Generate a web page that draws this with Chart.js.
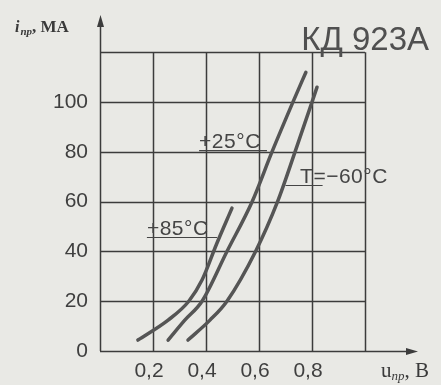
<!DOCTYPE html>
<html>
<head>
<meta charset="utf-8">
<script src="https://cdn.jsdelivr.net/npm/chart.js@4.4.1/dist/chart.umd.min.js"></script>
<style>
  html, body { margin: 0; padding: 0; background: #e9e9e5; }
  #wrap { width: 441px; height: 385px; }
</style>
</head>
<body>
<div id="wrap"><canvas id="myChart" width="441" height="385"></canvas></div>
<script>
// forward current vs. forward voltage, КД 923А
const u85 = [0.143, 0.257, 0.335, 0.385, 0.44, 0.498];
const i85 = [4.4, 12.4, 20, 28.5, 43, 57.4];
const u25 = [0.257, 0.32, 0.385, 0.479, 0.574, 0.649, 0.728, 0.777];
const i25 = [4.4, 12.4, 20, 40, 60, 80, 100, 112];
const uMinus60 = [0.332, 0.415, 0.479, 0.587, 0.67, 0.736, 0.8, 0.819];
const iMinus60 = [4.4, 12.4, 20, 40, 60, 80, 100, 106];

const xTicks = [0.2, 0.4, 0.6, 0.8];
const yTicks = [0, 20, 40, 60, 80, 100];
const xGrid = [0.2, 0.4, 0.6, 0.8, 1.0];
const yGrid = [20, 40, 60, 80, 100, 120];

const INK = "#3c3c3c";
const CURVE = "#555555";
const FONT = "'Liberation Sans', Arial, sans-serif";
const SERIF = "'Liberation Serif', 'Times New Roman', serif";

function toPoints(xs, ys) {
  return xs.map(function (x, i) { return { x: x, y: ys[i] }; });
}

function curve(xs, ys) {
  return {
    data: toPoints(xs, ys),
    showLine: true,
    borderColor: CURVE,
    borderWidth: 3.5,
    pointRadius: 0,
    cubicInterpolationMode: "monotone",
    borderCapStyle: "round",
  };
}

const bgPlugin = {
  id: "bg",
  beforeDraw(chart) {
    const ctx = chart.ctx;
    ctx.save();
    ctx.fillStyle = "#e9e9e5";
    ctx.fillRect(0, 0, chart.width, chart.height);
    ctx.restore();
  },
};

const gridPlugin = {
  id: "sheetGrid",
  beforeDatasetsDraw(chart) {
    const ctx = chart.ctx;
    const sx = chart.scales.x;
    const sy = chart.scales.y;
    const x0 = sx.getPixelForValue(0);
    const y0 = sy.getPixelForValue(0);
    const xTop = sx.getPixelForValue(1.0);
    const yTop = sy.getPixelForValue(120);
    ctx.save();
    ctx.strokeStyle = INK;
    ctx.lineWidth = 1.5;
    ctx.beginPath();
    xGrid.forEach(function (v) {
      const px = Math.round(sx.getPixelForValue(v)) + 0.5;
      ctx.moveTo(px, y0);
      ctx.lineTo(px, yTop);
    });
    yGrid.forEach(function (v) {
      const py = Math.round(sy.getPixelForValue(v)) + 0.5;
      ctx.moveTo(x0, py);
      ctx.lineTo(xTop, py);
    });
    ctx.stroke();

    // axes with arrows
    const xEnd = sx.getPixelForValue(sx.max);
    const yEnd = sy.getPixelForValue(sy.max);
    ctx.beginPath();
    ctx.moveTo(x0, y0 + 0.5);
    ctx.lineTo(xEnd - 6, y0 + 0.5);
    ctx.moveTo(x0 + 0.5, y0);
    ctx.lineTo(x0 + 0.5, yEnd + 6);
    ctx.stroke();
    ctx.fillStyle = INK;
    ctx.beginPath();
    ctx.moveTo(xEnd, y0 + 0.5);
    ctx.lineTo(xEnd - 12, y0 - 3);
    ctx.lineTo(xEnd - 12, y0 + 4);
    ctx.closePath();
    ctx.fill();
    ctx.beginPath();
    ctx.moveTo(x0 + 0.5, yEnd);
    ctx.lineTo(x0 - 3, yEnd + 12);
    ctx.lineTo(x0 + 4, yEnd + 12);
    ctx.closePath();
    ctx.fill();
    ctx.restore();
  },
};

// curve captions: text anchor and underline/leader in data units
const captions = [
  { text: "+25°C", x: 0.374, y: 81.5, lineTo: 0.63 },
  { text: "T=−60°C", x: 0.755, y: 67.5, lineFrom: 0.70, lineTo: 0.84 },
  { text: "+85°C", x: 0.177, y: 46.6, lineTo: 0.442 },
];

const textPlugin = {
  id: "texts",
  afterDraw(chart) {
    const ctx = chart.ctx;
    const sx = chart.scales.x;
    const sy = chart.scales.y;
    ctx.save();
    ctx.fillStyle = "#454545";
    ctx.strokeStyle = "#454545";
    ctx.lineWidth = 1.2;
    ctx.textBaseline = "alphabetic";
    ctx.font = "21px " + FONT;
    ctx.letterSpacing = "0.5px";
    captions.forEach(function (c) {
      const px = sx.getPixelForValue(c.x);
      const py = sy.getPixelForValue(c.y);
      ctx.textAlign = "left";
      ctx.fillText(c.text, px, py);
      const from = sx.getPixelForValue(c.lineFrom !== undefined ? c.lineFrom : c.x);
      ctx.beginPath();
      ctx.moveTo(from, py + 2.5);
      ctx.lineTo(sx.getPixelForValue(c.lineTo), py + 2.5);
      ctx.stroke();
    });
    ctx.letterSpacing = "0px";

    // part number
    ctx.fillStyle = "#505050";
    ctx.font = "33px " + FONT;
    ctx.textAlign = "right";
    ctx.fillText("КД 923А", chart.width - 12, 50);

    // axis titles
    ctx.fillStyle = "#3a3a3a";
    ctx.textAlign = "left";
    let x = 15;
    ctx.font = "italic bold 16px " + SERIF;
    ctx.fillText("i", x, 32);
    x += ctx.measureText("i").width + 1;
    ctx.font = "italic bold 11px " + SERIF;
    ctx.fillText("пр", x, 35);
    x += ctx.measureText("пр").width;
    ctx.font = "bold 17px " + SERIF;
    ctx.fillText(", МА", x, 32);

    x = 381;
    ctx.font = "21px " + SERIF;
    ctx.fillText("u", x, 377);
    x += ctx.measureText("u").width;
    ctx.font = "italic 13px " + SERIF;
    ctx.fillText("пр", x, 380);
    x += ctx.measureText("пр").width;
    ctx.font = "21px " + SERIF;
    ctx.fillText(", В", x, 377);
    ctx.restore();
  },
};

const ctx = document.getElementById("myChart").getContext("2d");

new Chart(ctx, {
  type: "scatter",
  data: {
    datasets: [curve(u85, i85), curve(u25, i25), curve(uMinus60, iMinus60)],
  },
  options: {
    responsive: false,
    animation: false,
    layout: { padding: { left: 0, right: 23, top: 15, bottom: 0 } },
    plugins: {
      legend: { display: false },
      tooltip: { enabled: false },
    },
    scales: {
      x: {
        type: "linear",
        min: 0,
        max: 1.2,
        grid: { display: false },
        border: { display: false },
        afterBuildTicks: function (s) {
          s.ticks = xTicks.map(function (v) { return { value: v }; });
        },
        afterFit: function (s) {
          s.height = 34;
          s.paddingLeft = 0;
          s.paddingRight = 0;
        },
        ticks: {
          color: "#3f3f3f",
          font: { family: FONT, size: 21 },
          padding: 0,
          labelOffset: -4,
          maxRotation: 0,
          autoSkip: false,
          callback: function (v) { return v.toFixed(1).replace(".", ","); },
        },
      },
      y: {
        type: "linear",
        min: 0,
        max: 135,
        grid: { display: false },
        border: { display: false },
        afterBuildTicks: function (s) {
          s.ticks = yTicks.map(function (v) { return { value: v }; });
        },
        afterFit: function (s) {
          s.width = 100;
          s.paddingTop = 0;
          s.paddingBottom = 0;
        },
        ticks: {
          color: "#3f3f3f",
          font: { family: FONT, size: 21 },
          padding: 4,
          autoSkip: false,
        },
      },
    },
  },
  plugins: [bgPlugin, gridPlugin, textPlugin],
});
</script>
</body>
</html>
